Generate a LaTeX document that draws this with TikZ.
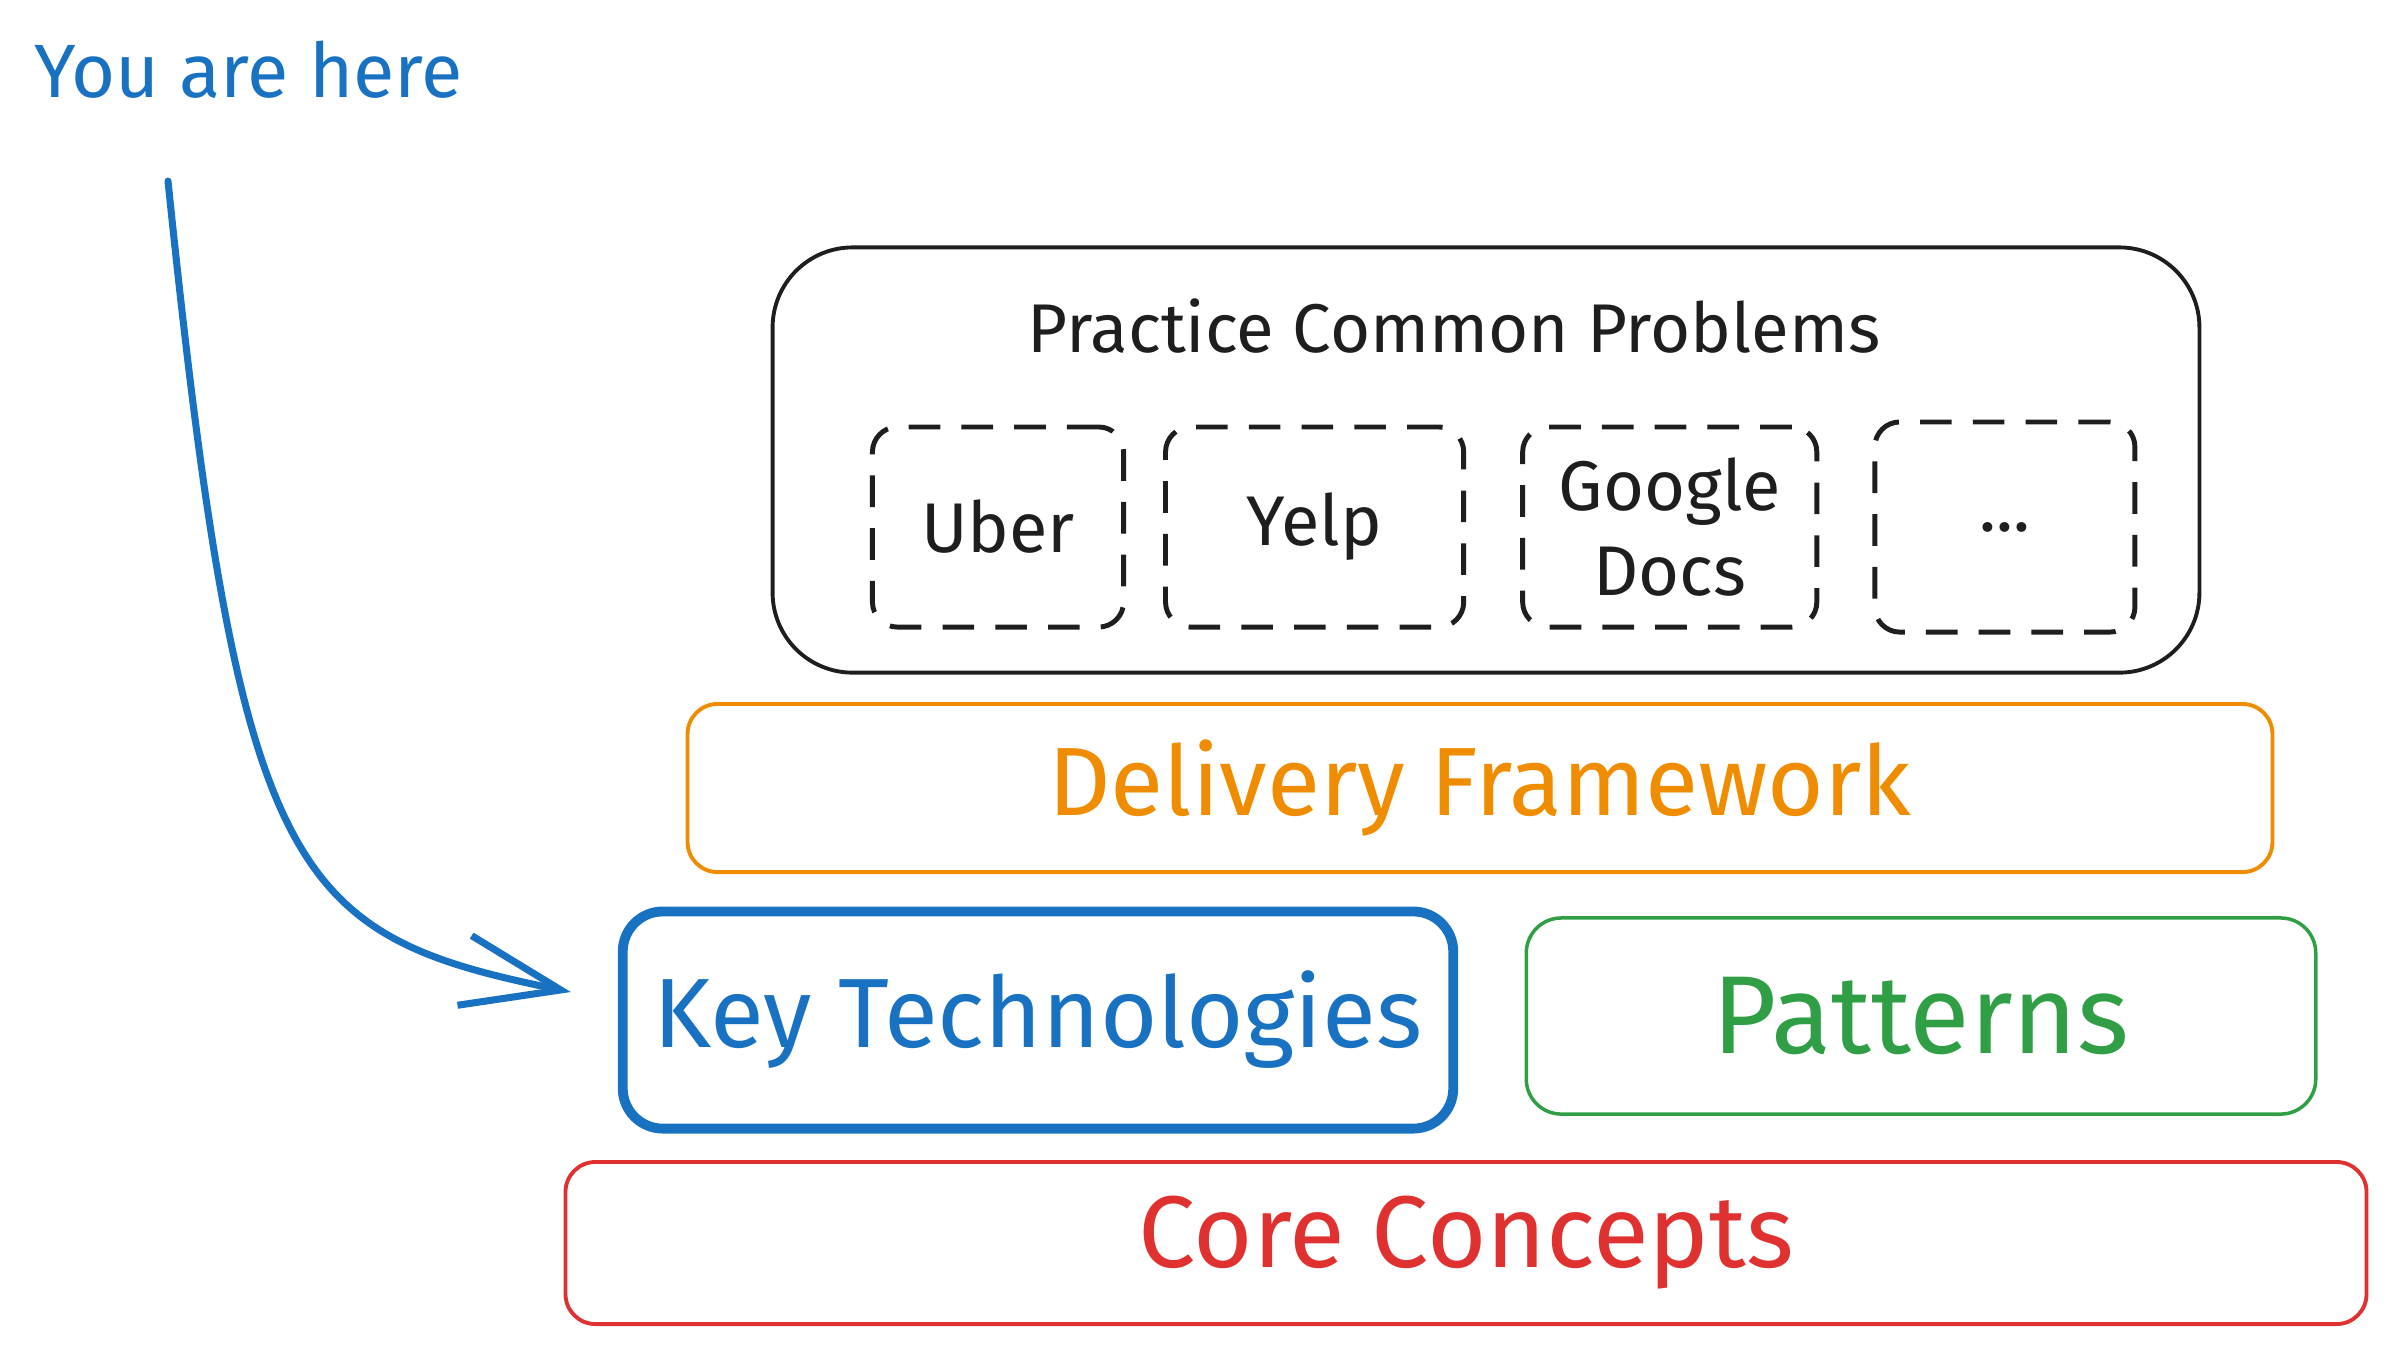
\documentclass[tikz,border=0pt]{standalone}
\usepackage{fontspec}
\setmainfont{Fira Sans}
\usepackage{tikz}
\usetikzlibrary{arrows.meta,positioning}
\definecolor{HereBlue}{HTML}{1971C2}
\definecolor{DeliveryOrange}{HTML}{F08C00}
\definecolor{PatternGreen}{HTML}{2F9E44}
\definecolor{CoreRed}{HTML}{E03131}
\definecolor{InkBlack}{HTML}{1E1E1E}
\newcommand{\layerfont}{\fontsize{29}{34}\selectfont}
\newcommand{\probfont}{\fontsize{20}{24}\selectfont}

\begin{document}
\begin{tikzpicture}[
    x=0.01cm, y=-0.01cm,
    layer/.style={draw, rounded corners=3mm, line width=1.1pt, align=center, font=\layerfont},
    prob/.style={draw=InkBlack, dash pattern=on 9pt off 6pt, line width=1.4pt,
      rounded corners=2.5mm, minimum height=2cm, align=center, font=\probfont, text=InkBlack},
    arr/.style={-{Straight Barb[length=9.8mm,width=7.1mm]}, line width=2pt,
      color=HereBlue, line cap=round, line join=round},
    node distance=5mm
  ]
    \useasboundingbox (0,0) rectangle (2400,1359);

    % practice block
    \node[draw=InkBlack, line width=1.1pt, rounded corners=8mm,
      minimum width=14.26cm, minimum height=4.25cm] (problems) at (1486,460) {};
    \node[anchor=base, font=\fontsize{19.6}{24}\selectfont, text=InkBlack] (practice) at (1454,352) {Practice Common Problems};
    \node[prob, minimum width=2.51cm] (uber) at (998,527) {Uber};
    \node[prob, minimum width=2.98cm, right=3.7mm of uber] (yelp) {Yelp};
    \node[prob, minimum width=2.94cm, right=5.4mm of yelp] (gdocs) {Google\\Docs};
    \node[prob, minimum width=2.6cm, minimum height=2.1cm, right=5.3mm of gdocs] (more) {...};

    % layers
    \node[layer, color=DeliveryOrange, font=\fontsize{27.6}{33}\selectfont,
      minimum width=15.84cm, minimum height=1.68cm] (delivery) at (1480,788) {Delivery Framework};
    \node[layer, color=HereBlue, line width=2.8pt, rounded corners=4mm, font=\fontsize{28}{33}\selectfont,
      minimum width=8.3cm, minimum height=2.17cm] (keytech) at (1038,1020) {Key Technologies};
    \node[layer, color=PatternGreen, line width=1pt, rounded corners=3.5mm, font=\fontsize{31.5}{36}\selectfont,
      minimum width=7.89cm, minimum height=1.96cm] (patterns) at (1921,1016) {Patterns};
    \node[layer, color=CoreRed, minimum width=18cm, minimum height=1.62cm] (core) at (1466,1243) {Core Concepts};

    % you are here
    \node[anchor=base west, font=\fontsize{21.5}{26}\selectfont, text=HereBlue] (here) at (22,97) {You are here};
    \coordinate (start) at (168,181);
    \draw[arr] (start) .. controls (240,880) and (290,935) .. ([xshift=-4.7mm,yshift=2.8mm]keytech.west);
  \end{tikzpicture}
\end{document}
